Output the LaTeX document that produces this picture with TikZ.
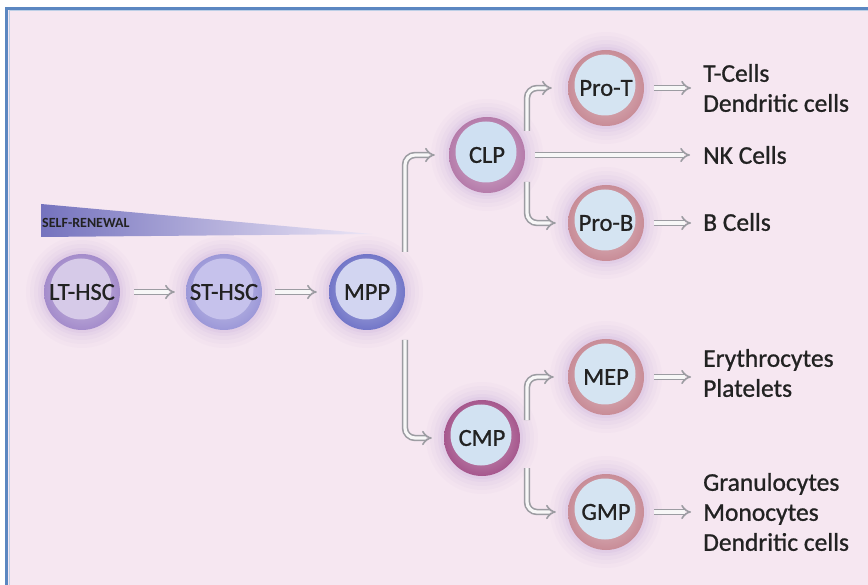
\documentclass[tikz,border=0pt]{standalone}
\usepackage{fontspec}
\setmainfont{Carlito}
\newfontfamily\lblfont{Carlito}[FakeBold=0.9]
\usetikzlibrary{arrows.meta}
\definecolor{bg}{HTML}{F6E7F1}
\definecolor{frame}{HTML}{5B87C1}
\definecolor{txt}{HTML}{222222}
\definecolor{glow}{HTML}{B596D2}
\definecolor{ltout}{HTML}{A48CCB}
\definecolor{ltin}{HTML}{D6CAE8}
\definecolor{stout}{HTML}{9C98D8}
\definecolor{stin}{HTML}{C6C2EC}
\definecolor{mpout}{HTML}{7276C8}
\definecolor{mpin}{HTML}{D2D5F1}
\definecolor{clout}{HTML}{B57BAA}
\definecolor{clin}{HTML}{CFE0F2}
\definecolor{proout}{HTML}{C88C97}
\definecolor{proin}{HTML}{D5E4F2}
\definecolor{cmout}{HTML}{A6578D}
\definecolor{cmin}{HTML}{D2E2F2}
\definecolor{tri1}{HTML}{7573BE}
\definecolor{tri2}{HTML}{EDE6F6}
\definecolor{arrgray}{HTML}{9C9CA2}
\tikzset{
  cell/.style 2 args={circle, minimum size=76pt, inner sep=0pt,
    shading=radial, inner color=#1!55!white, outer color=#1,
    path picture={\fill[#2] ([xshift=-1pt,yshift=3pt]path picture bounding box.center) circle (30.5pt);},
    font=\lblfont\fontsize{24.5}{28}\selectfont, text=txt},
  lbl/.style={anchor=west, align=left, inner sep=3pt, text=txt,
    font=\lblfont\fontsize{25.5}{30}\selectfont},
  arr/.style={draw=arrgray, double=gray!6, double distance=3.2pt, line width=1.6pt,
    -{Implies}, rounded corners=10pt},
}
\begin{document}
\begin{tikzpicture}[x=1pt,y=-1pt]
\useasboundingbox (0,0) rectangle (868,585);
\fill[white] (0,0) rectangle (868,585);
\fill[bg] (6.5,8.5) rectangle (868,585);
\draw[frame, line width=3pt] (6.5,585) -- (6.5,8.5) -- (868,8.5);
\draw[frame!40, line width=1pt] (9,585) -- (9,11) -- (868,11);
% self-renewal wedge
\shade[left color=tri1, right color=tri2] (41,204) -- (372,234) -- (41,237) -- cycle;
\node[anchor=west, inner sep=0pt, text=txt, font=\fontsize{14}{16}\bfseries\selectfont] (sr) at (42,223) {SELF-RENEWAL};
% glows
\foreach \p in {(82,292),(224,292),(367,292),(487,155),(606,88),(606,223),(482,438),(606,377),(606,512)}{
  \foreach \r/\o in {56/0.04,52/0.05,48/0.06,44/0.08,41/0.1}{
    \fill[glow, opacity=\o] \p circle (\r);
  }
}
% cells
\node[cell={ltout}{ltin}] (LT) at (82,292) {LT-HSC};
\node[cell={stout}{stin}] (ST) at (224,292) {ST-HSC};
\node[cell={mpout}{mpin}] (MPP) at (367,292) {MPP};
\node[cell={clout}{clin}] (CLP) at (487,155) {CLP};
\node[cell={proout}{proin}] (ProT) at (606,88) {Pro-T};
\node[cell={proout}{proin}] (ProB) at (606,223) {Pro-B};
\node[cell={cmout}{cmin}] (CMP) at (482,438) {CMP};
\node[cell={proout}{proin}] (MEP) at (606,377) {MEP};
\node[cell={proout}{proin}] (GMP) at (606,512) {GMP};
% labels
\node[lbl] (tc) at (700,88) {T-Cells\\Dendritic cells};
\node[lbl] (nk) at (700,155) {NK Cells};
\node[lbl] (bc) at (700,222) {B Cells};
\node[lbl] (er) at (700,373) {Erythrocytes\\Platelets};
\node[lbl] (gr) at (700,512) {Granulocytes\\Monocytes\\Dendritic cells};
% arrows
\draw[arr] ([xshift=14pt]LT.east) -- ([xshift=-11pt]ST.west);
\draw[arr] ([xshift=13pt]ST.east) -- ([xshift=-12pt]MPP.west);
\draw[arr] ([xshift=38pt,yshift=40pt]MPP.center) |- ([xshift=-14pt]CLP.west);
\draw[arr] ([xshift=38pt,yshift=-48pt]MPP.center) |- ([xshift=-12pt]CMP.west);
\draw[arr] ([xshift=40pt,yshift=24pt]CLP.center) |- ([xshift=-16pt]ProT.west);
\draw[arr] ([xshift=10pt]CLP.east) -- ([xshift=-10pt]CLP.east -| nk.west);
\draw[arr] ([xshift=40pt,yshift=-27pt]CLP.center) |- ([xshift=-12pt]ProB.west);
\draw[arr] ([xshift=45pt,yshift=18pt]CMP.center) |- ([xshift=-14pt]MEP.west);
\draw[arr] ([xshift=45pt,yshift=-30pt]CMP.center) |- ([xshift=-12pt]GMP.west);
\draw[arr] ([xshift=10pt]ProT.east) -- ([xshift=-9pt]ProT.east -| tc.west);
\draw[arr] ([xshift=10pt]ProB.east) -- ([xshift=-9pt]ProB.east -| bc.west);
\draw[arr] ([xshift=10pt]MEP.east) -- ([xshift=-9pt]MEP.east -| er.west);
\draw[arr] ([xshift=10pt]GMP.east) -- ([xshift=-9pt]GMP.east -| gr.west);
\end{tikzpicture}
\end{document}
